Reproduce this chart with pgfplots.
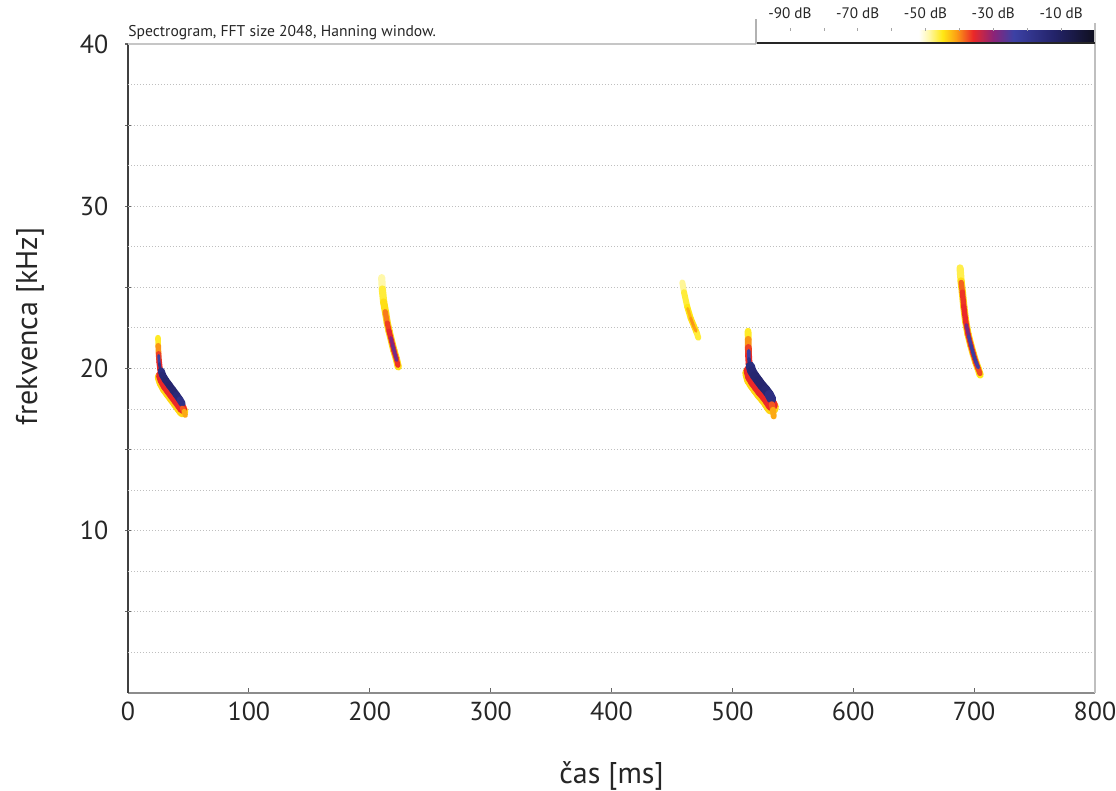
\documentclass[border=0pt]{standalone}
\usepackage{fontspec}
\setmainfont{PT Sans}
\usepackage{pgfplots}
\pgfplotsset{compat=1.18}

% spectrogram level scale, dB + 100 as position
\pgfplotsset{
  colormap={dbscale}{
    rgb255(0pt)=(255,255,255)
    rgb255(48pt)=(255,255,255)
    rgb255(51pt)=(255,248,170)
    rgb255(55pt)=(255,232,20)
    rgb255(59pt)=(252,160,20)
    rgb255(64pt)=(235,40,40)
    rgb255(70pt)=(140,35,120)
    rgb255(76pt)=(60,65,165)
    rgb255(88pt)=(35,35,105)
    rgb255(100pt)=(15,15,30)
  },
  call/.style={mesh, point meta=explicit, line cap=round, line join=round, line width=#1},
}

\begin{document}
\begin{tikzpicture}
\path[use as bounding box] (-64pt,-49pt) rectangle (494pt,346.5pt);
\begin{axis}[
  name=main,
  at={(0,0)}, anchor=south west,
  scale only axis, width=483.5pt, height=324.5pt,
  xmin=0, xmax=800, ymin=0, ymax=40,
  axis x line*=bottom, axis y line*=left,
  x axis line style={black!45, line width=0.8pt},
  y axis line style={black!75, line width=0.9pt},
  xtick={0,100,...,800},
  ytick={10,20,30,40},
  minor ytick={5,15,25,35},
  xtick align=inside, ytick align=center,
  major tick length=2.6pt, minor tick length=2.6pt,
  tick style={black!60, line width=0.6pt},
  extra y ticks={2.5,5,...,37.5},
  extra y tick labels={},
  extra y tick style={grid=major, major tick length=0pt},
  major grid style={gray!50, line width=0.5pt, dash pattern=on 0.6pt off 0.9pt},
  /pgf/number format/assume math mode=true,
  tick label style={font=\fontsize{13}{15}\selectfont, text=black!85},
  yticklabel style={xshift=-5pt},
  xticklabel style={yshift=-1pt},
  xlabel={čas [ms]}, ylabel={frekvenca [kHz]},
  label style={font=\fontsize{15}{18}\selectfont, text=black!85},
  xlabel style={at={(axis description cs:0.5,0)}, anchor=center, yshift=-41.5pt},
  ylabel style={at={([xshift=-49pt]axis description cs:0,0.565)}, anchor=center},
  colormap name=dbscale,
  point meta min=-100, point meta max=0,
  colorbar horizontal,
  colorbar shift/.style={},
  colorbar style={
    at={(parent axis.north east)}, anchor=south east,
    yshift=0.6pt,
    scale only axis, width=169.5pt, height=6pt,
    xtick={-90,-70,-50,-30,-10},
    xticklabels={-90 dB,-70 dB,-50 dB,-30 dB,-10 dB},
    minor xtick={-100,-80,-60,-40,-20,0},
    xtick pos=right, xticklabel pos=upper,
    xtick align=outside,
    major tick length=1.2pt, minor tick length=1.2pt,
    tick style={black!35},
    axis line style={draw=none},
    ytick=\empty,
    tick label style={font=\fontsize{7.6}{9}\selectfont, text=black!85, yshift=1.5pt},
  },
]

% call 1: narrow onset, broad sweep, short tail
\addplot[call=2.8pt] table[meta=db] {
t f db
24.8 21.9 -48
25.0 21.4 -43
25.3 20.9 -38
25.8 20.4 -36
26.5 19.95 -36
27.3 19.6 -36
};
\addplot[call=1.4pt] table[meta=db] {
t f db
25.4 20.8 -28
25.9 20.3 -20
26.6 20.0 -17
};
\addplot[call=5.8pt] table[meta=db] {
t f db
27.0 19.45 -44
28.5 19.13 -44
31.0 18.78 -44
34.0 18.48 -44
37.0 18.18 -44
40.0 17.88 -44
43.0 17.58 -44
45.0 17.36 -44
};
\addplot[call=4.8pt] table[meta=db] {
t f db
27.1 19.58 -36
28.5 19.28 -36
31.0 18.93 -36
34.0 18.63 -36
37.0 18.33 -36
40.0 18.03 -36
43.0 17.73 -36
45.0 17.51 -36
};
\addplot[call=3.5pt] table[meta=db] {
t f db
27.5 19.85 -18
28.6 19.6 -15
31.2 19.27 -14
34.2 18.97 -13
37.2 18.67 -13
40.2 18.37 -14
43.0 18.07 -16
44.8 17.85 -20
};
\addplot[call=2.6pt] table[meta=db] {
t f db
45.0 17.55 -38
46.5 17.35 -38
47.4 17.12 -45
};

% call 2
\addplot[call=3.6pt] table[meta=db] {
t f db
209.9 25.6 -51
210.4 24.9 -47
211.5 24.1 -45
213.2 23.4 -44
214.5 22.8 -44
216.0 22.3 -44
218.0 21.7 -44
220.0 21.1 -44
222.0 20.6 -44
223.6 20.1 -45
};
\addplot[call=2.6pt] table[meta=db] {
t f db
212.8 23.5 -41
214.5 22.8 -38
216.0 22.3 -36
218.0 21.7 -35
220.0 21.1 -35
222.0 20.6 -36
223.3 20.2 -37
};
\addplot[call=1.6pt] table[meta=db] {
t f db
217.5 21.9 -31
219.0 21.4 -28
220.5 21.0 -27
222.3 20.5 -29
};

% call 3
\addplot[call=3pt] table[meta=db] {
t f db
458.6 25.3 -50
460.0 24.7 -47
462.7 23.8 -45
465.5 23.1 -45
468.3 22.6 -44
470.5 22.2 -45
471.8 21.9 -47
};
\addplot[call=1.5pt] table[meta=db] {
t f db
463.0 23.7 -43
465.5 23.1 -41
468.0 22.6 -40
470.0 22.3 -42
};

% call 4: narrow onset, broad sweep, short tail
\addplot[call=3.4pt] table[meta=db] {
t f db
513.0 22.3 -48
513.1 21.8 -43
513.2 21.3 -38
513.4 20.8 -36
513.8 20.3 -36
514.4 19.8 -36
};
\addplot[call=1.8pt] table[meta=db] {
t f db
513.5 21.1 -28
513.7 20.6 -20
514.3 20.2 -17
};
\addplot[call=7.2pt] table[meta=db] {
t f db
514.2 19.7 -44
515.5 19.35 -44
518.0 19.05 -44
521.0 18.75 -44
524.0 18.45 -44
527.0 18.2 -44
530.0 17.9 -44
532.5 17.6 -44
};
\addplot[call=6pt] table[meta=db] {
t f db
514.3 19.85 -36
515.6 19.5 -36
518.0 19.2 -36
521.0 18.9 -36
524.0 18.6 -36
527.0 18.35 -36
530.0 18.05 -36
532.5 17.75 -36
};
\addplot[call=4.6pt] table[meta=db] {
t f db
514.8 20.15 -17
516.0 19.85 -15
518.5 19.55 -14
521.5 19.25 -13
524.5 18.95 -13
527.5 18.7 -13
530.5 18.4 -15
532.5 18.1 -19
};
\addplot[call=3pt] table[meta=db] {
t f db
532.6 17.8 -38
533.6 17.45 -38
534.2 17.05 -45
};

% call 5
\addplot[call=3.6pt] table[meta=db] {
t f db
688.4 26.2 -48
689.2 25.4 -45
690.3 24.7 -44
691.5 23.8 -44
693.0 22.9 -44
695.0 22.1 -44
697.2 21.45 -44
699.3 20.9 -44
701.3 20.4 -44
703.3 20.0 -44
705.0 19.6 -46
};
\addplot[call=2.7pt] table[meta=db] {
t f db
689.3 25.3 -40
690.3 24.7 -37
691.5 23.8 -36
693.0 22.9 -36
695.0 22.1 -36
697.2 21.45 -36
699.3 20.9 -36
701.3 20.4 -36
703.3 20.0 -37
704.8 19.7 -38
};
\addplot[call=1.7pt] table[meta=db] {
t f db
693.5 22.7 -31
695.5 22.0 -26
697.5 21.4 -23
699.5 20.85 -22
701.5 20.4 -23
703.5 20.05 -26
};
\end{axis}

% frame pieces and the rule under the level scale
\draw[gray!45, line width=0.7pt] (0,324.5pt) -- (314pt,324.5pt);
\draw[gray!50, line width=0.7pt] (483.5pt,0) -- (483.5pt,335pt);
\draw[black!85, line width=1pt] (314pt,324.9pt) -- (483.5pt,324.9pt);
\draw[gray!60, line width=0.6pt] (314pt,324.5pt) -- (314pt,337pt);

\node[anchor=south west, inner sep=0pt, font=\fontsize{7.8}{9}\selectfont, text=black!85]
  at (0,326.5pt) {Spectrogram, FFT size 2048, Hanning window.};
\end{tikzpicture}
\end{document}
